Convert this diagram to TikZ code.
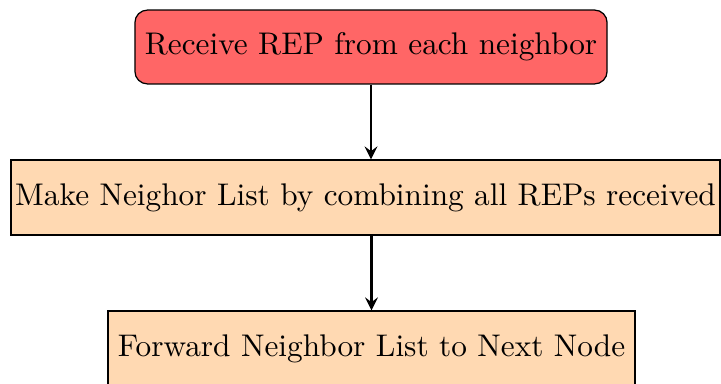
\documentclass[tikz,border=0pt]{standalone}
\usetikzlibrary{arrows}
\tikzset{
  startstop/.style={rectangle, rounded corners=4pt, draw=black, fill=red!60, text centered, inner sep=1pt},
  process/.style={rectangle, draw=black, fill=orange!30, text centered, inner sep=1pt},
  arrow/.style={thick,->,>=stealth}
}
\begin{document}
\begin{tikzpicture}[x=0.3194pt,y=-0.3194pt]
\useasboundingbox (0,0) rectangle (721,383);
\node[startstop, minimum width=150.8pt, minimum height=23.6pt] (recv) at (371,47) {Receive REP from each neighbor};
\node[process, minimum width=226.5pt, minimum height=24pt] (make) at (365.5,197.5) {Make Neighor List by combining all REPs received};
\node[process, minimum width=168.3pt, minimum height=24pt] (fwd) at (371.5,348.5) {Forward Neighbor List to Next Node};
\draw[arrow] (recv) -- (recv |- make.north);
\draw[arrow] (make.south -| fwd) -- (fwd);
\end{tikzpicture}
\end{document}
